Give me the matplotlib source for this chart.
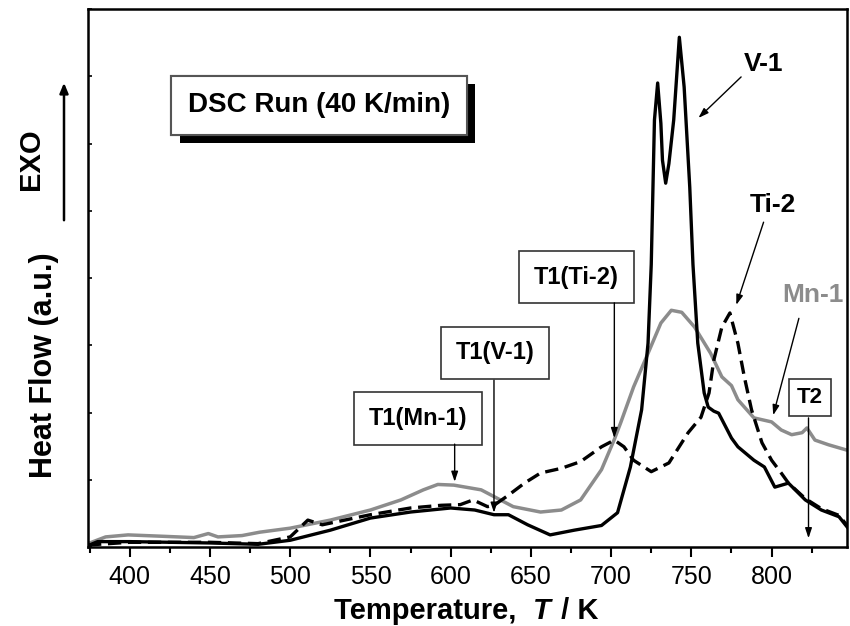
import matplotlib
matplotlib.use("Agg")
import matplotlib.pyplot as plt
import matplotlib.patheffects as pe
from matplotlib.ticker import MultipleLocator

plt.rcParams['font.family'] = ['Liberation Sans', 'DejaVu Sans']

# V-1 (black solid)
v1_T = [374, 380, 400, 450, 480, 500, 525, 550, 575, 600, 615, 627, 636, 648, 662,
        677, 694, 704, 712, 719, 723, 725, 727, 729, 731, 732, 734, 736, 739, 742.5,
        745.5, 749, 751, 754, 758, 760.5, 764, 767, 775, 779, 789, 795.5, 802, 810.5,
        821, 831, 842, 847]
v1_y = [0.02, 0.08, 0.08, 0.06, 0.04, 0.10, 0.25, 0.43, 0.52, 0.58, 0.55, 0.48, 0.48,
        0.33, 0.18, 0.25, 0.32, 0.51, 1.19, 2.04, 3.03, 4.2, 6.35, 6.9, 6.3, 5.75, 5.41,
        5.7, 6.35, 7.58, 6.84, 5.35, 4.2, 3.03, 2.29, 2.08, 2.02, 1.99, 1.62, 1.49, 1.29,
        1.19, 0.89, 0.95, 0.70, 0.55, 0.45, 0.30]

# Ti-2 (black dashed)
ti2_T = [374, 400, 450, 480, 500, 511, 520, 550, 575, 594, 606, 614, 623, 627, 636,
         646, 656, 669, 681, 694, 702, 708, 714, 725, 736, 748, 756, 761, 764, 769, 774,
         779, 783, 787.5, 794, 800, 806, 810.5, 821, 831, 842, 847]
ti2_y = [0.03, 0.07, 0.07, 0.05, 0.15, 0.40, 0.33, 0.48, 0.58, 0.62, 0.63, 0.70, 0.60,
         0.62, 0.77, 0.95, 1.10, 1.17, 1.27, 1.49, 1.59, 1.49, 1.29, 1.12, 1.25, 1.70,
         1.93, 2.29, 2.78, 3.27, 3.48, 3.03, 2.53, 2.04, 1.55, 1.29, 1.10, 0.95, 0.72,
         0.57, 0.47, 0.32]

# Mn-1 (grey solid)
mn1_T = [374, 385, 399, 420, 440, 449, 455, 470, 481, 500, 525, 550, 569, 583, 592,
         602, 619, 627, 639, 656, 669, 681, 694, 702, 706, 714, 723, 731, 737.5, 744,
         752, 762, 769, 775, 779, 789, 800, 806, 812.5, 819, 822, 827, 835.5, 847]
mn1_y = [0.05, 0.15, 0.18, 0.16, 0.14, 0.20, 0.15, 0.17, 0.22, 0.28, 0.40, 0.55, 0.70,
         0.85, 0.93, 0.92, 0.85, 0.75, 0.60, 0.52, 0.55, 0.70, 1.15, 1.60, 1.85, 2.38,
         2.88, 3.33, 3.52, 3.49, 3.27, 2.88, 2.53, 2.40, 2.19, 1.92, 1.86, 1.74, 1.67,
         1.70, 1.77, 1.59, 1.52, 1.44]

fig = plt.figure(figsize=(8.5, 6.26), dpi=100)
ax = fig.add_axes([0.1035, 0.1262, 0.893, 0.8594])

ax.plot(mn1_T, mn1_y, color='#8c8c8c', lw=2.5)
ax.plot(ti2_T, ti2_y, color='black', lw=2.4, dashes=(4, 2))
ax.plot(v1_T, v1_y, color='black', lw=2.4)

ax.set_xlim(374, 847)
ax.set_ylim(0, 8)
ax.xaxis.set_major_locator(MultipleLocator(50))
ax.xaxis.set_minor_locator(MultipleLocator(25))
ax.yaxis.set_major_locator(MultipleLocator(1))
ax.set_yticklabels([])
ax.tick_params(axis='x', which='major', direction='out', length=7, width=1.5,
               labelsize=18, pad=6)
ax.tick_params(axis='x', which='minor', direction='out', length=4, width=1.5)
ax.tick_params(axis='y', which='major', direction='in', length=3, width=1.2)
for s in ax.spines.values():
    s.set_linewidth(1.8)

# x label: "Temperature,  T / K" with italic T
ylab = 1 - 611 / 626
fig.text(0.627, ylab, 'Temperature,  ', fontsize=21, fontweight='bold',
         ha='right', va='center')
fig.text(0.627, ylab, 'T', fontsize=21, fontweight='bold', style='italic',
         ha='left', va='center')
fig.text(0.651, ylab, ' / K', fontsize=21, fontweight='bold',
         ha='left', va='center')

fig.text(44 / 850, 1 - 365 / 626, 'Heat Flow (a.u.)', fontsize=22, fontweight='bold',
         rotation=90, ha='center', va='center')
fig.text(31 / 850, 1 - 159 / 626, 'EXO', fontsize=21, fontweight='bold',
         rotation=90, ha='center', va='center')
fig.patches.append(matplotlib.patches.FancyArrowPatch(
    (64 / 850, 1 - 223 / 626), (64 / 850, 1 - 80 / 626), transform=fig.transFigure,
    arrowstyle='-|>,head_length=6,head_width=2.5', lw=1.8, color='black'))

# DSC run box with shadow
t = ax.text(518, 6.57, 'DSC Run (40 K/min)', fontsize=20, fontweight='bold',
            ha='center', va='center',
            bbox=dict(boxstyle='square,pad=0.6', fc='white', ec='#555555', lw=1.5))
t.get_bbox_patch().set_path_effects([
    pe.withSimplePatchShadow(offset=(6, -6), shadow_rgbFace='black', alpha=1.0),
    pe.Normal()])

box = dict(boxstyle='square,pad=0.62', fc='white', ec='#333333', lw=1.2)
arr = dict(arrowstyle='-|>,head_length=0.6,head_width=0.2', lw=1.0, color='black',
           shrinkA=0, shrinkB=0)

ax.text(579.7, 1.91, 'T1(Mn-1)', fontsize=17, fontweight='bold', ha='center',
        va='center', bbox=box)
ax.annotate('', xy=(602.5, 0.97), xytext=(602.5, 1.53), arrowprops=arr)

ax.text(627.8, 2.89, 'T1(V-1)', fontsize=17, fontweight='bold', ha='center',
        va='center', bbox=box)
ax.annotate('', xy=(627, 0.51), xytext=(627, 2.48), arrowprops=arr)

ax.text(678.4, 4.01, 'T1(Ti-2)', fontsize=17, fontweight='bold', ha='center',
        va='center', bbox=box)
ax.annotate('', xy=(702, 1.62), xytext=(702, 3.63), arrowprops=arr)

ax.text(824, 2.22, 'T2', fontsize=16, fontweight='bold', ha='center', va='center',
        bbox=dict(boxstyle='square,pad=0.35', fc='white', ec='#333333', lw=1.2))
ax.annotate('', xy=(823, 0.13), xytext=(823, 1.92), arrowprops=arr)

ax.text(795, 7.18, 'V-1', fontsize=19, fontweight='bold', ha='center', va='center')
ax.annotate('', xy=(754.4, 6.38), xytext=(781, 6.99), arrowprops=arr)

ax.text(801, 5.09, 'Ti-2', fontsize=19, fontweight='bold', ha='center', va='center')
ax.annotate('', xy=(778, 3.6), xytext=(795, 4.83), arrowprops=arr)

ax.text(826, 3.75, 'Mn-1', fontsize=19, fontweight='bold', ha='center', va='center',
        color='#8c8c8c')
ax.annotate('', xy=(801, 1.96), xytext=(817, 3.4), arrowprops=arr)

fig.savefig('out.png', dpi=100)
